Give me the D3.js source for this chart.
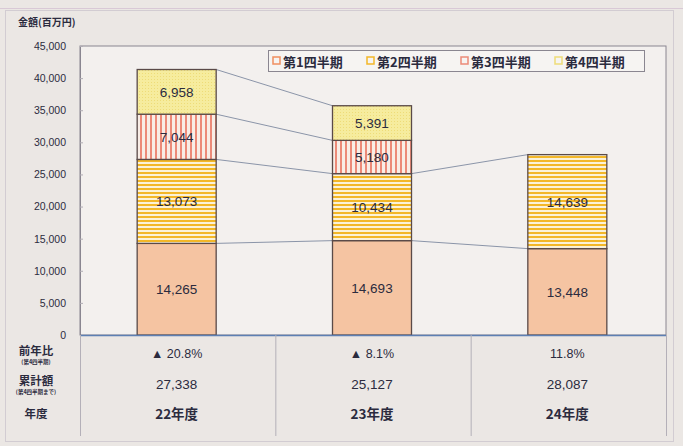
<!DOCTYPE html>
<html><head><meta charset="utf-8">
<script src="https://cdn.jsdelivr.net/npm/d3@7"></script>
<style>
html,body{margin:0;padding:0;background:#ebe7e4;}
svg{display:block;}
text{font-family:"Liberation Sans","Noto Sans CJK JP",sans-serif;fill:#2b2b3e;}
.jp{font-family:"Noto Sans CJK JP",sans-serif;font-weight:700;}
</style></head><body>
<script>
const categories = ["22年度", "23年度", "24年度"];
const seriesNames = ["第1四半期", "第2四半期", "第3四半期", "第4四半期"];
const q1 = [14265, 14693, 13448];
const q2 = [13073, 10434, 14639];
const q3 = [7044, 5180, null];
const q4 = [6958, 5391, null];
const yoy = ["▲ 20.8%", "▲ 8.1%", "11.8%"];
const cumulative = ["27,338", "25,127", "28,087"];
const yTicks = [0, 5000, 10000, 15000, 20000, 25000, 30000, 35000, 40000, 45000];

const W = 683, H = 446;
const svg = d3.select("body").append("svg").attr("width", W).attr("height", H);
const defs = svg.append("defs");

// patterns
const p2 = defs.append("pattern").attr("id","pq2").attr("patternUnits","userSpaceOnUse").attr("width",6).attr("height",4);
p2.append("rect").attr("width",6).attr("height",4).attr("fill","#fbf2d8");
p2.append("rect").attr("y",0).attr("width",6).attr("height",2).attr("fill","#f3b728");
const p3 = defs.append("pattern").attr("id","pq3").attr("patternUnits","userSpaceOnUse").attr("width",5).attr("height",6);
p3.append("rect").attr("width",5).attr("height",6).attr("fill","#f8ede6");
p3.append("rect").attr("x",0).attr("width",2).attr("height",6).attr("fill","#ec8a78");
const p4 = defs.append("pattern").attr("id","pq4").attr("patternUnits","userSpaceOnUse").attr("width",3).attr("height",3);
p4.append("rect").attr("width",3).attr("height",3).attr("fill","#f6ec9e");
p4.append("rect").attr("x",1).attr("y",1).attr("width",1).attr("height",1).attr("fill","#eedc78");

const fills = ["#f5c4a2", "url(#pq2)", "url(#pq3)", "url(#pq4)"];
const legendColors = ["#f08f60", "#f3b728", "#ec8a78", "#eedc78"];

const m = {left: 80, right: 666, top: 46, bottom: 335};

// outer frame
svg.append("line").attr("x1",0).attr("x2",W).attr("y1",8.5).attr("y2",8.5).attr("stroke","#d9c9d6").attr("stroke-width",1);
svg.append("rect").attr("x",5.5).attr("y",10.5).attr("width",668).attr("height",431)
  .attr("fill","none").attr("stroke","#d2ccd2").attr("stroke-width",1);

// plot area
svg.append("rect").attr("x",m.left).attr("y",m.top).attr("width",m.right-m.left).attr("height",m.bottom-m.top)
  .attr("fill","#f3f0ee").attr("stroke","#8a8690").attr("stroke-width",1);

const x = d3.scaleBand().domain(categories).range([m.left, m.right]).paddingInner(0).paddingOuter(0);
const y = d3.scaleLinear().domain([0, 45000]).range([m.bottom, m.top]);
const bw = 79;
const bx = c => x(c) + x.bandwidth()/2 - bw/2 - 1;

// y axis
const yAxis = d3.axisLeft(y).tickValues(yTicks).tickFormat(d3.format(",")).tickSize(-3).tickPadding(14);
const gy = svg.append("g").attr("transform",`translate(${m.left},0)`).call(yAxis);
gy.select(".domain").attr("stroke","#8a8690");
gy.selectAll(".tick line").attr("stroke","#b0acb4");
gy.selectAll(".tick text").attr("font-size",10.5).attr("fill","#3a3a4e").attr("font-weight",400);

svg.append("text").attr("class","jp").attr("x",18).attr("y",26).attr("font-size",10).text("金額(百万円)");

// stacks
const data = categories.map((c,i)=>({cat:c, vals:[q1[i],q2[i],q3[i],q4[i]]}));
data.forEach(d=>{
  let acc = 0;
  d.segs = d.vals.map((v,k)=>{
    if (v == null) return null;
    const s = {k, y0: acc, y1: acc+v, v};
    acc += v;
    return s;
  }).filter(s=>s);
});

// connector lines
for (let i=0;i<data.length-1;i++){
  const a = data[i], b = data[i+1];
  const n = Math.min(a.segs.length, b.segs.length);
  for (let k=0;k<n;k++){
    svg.append("line")
      .attr("x1", bx(a.cat)+bw).attr("y1", y(a.segs[k].y1))
      .attr("x2", bx(b.cat)).attr("y2", y(b.segs[k].y1))
      .attr("stroke","#7f8aa0").attr("stroke-width",0.9);
  }
}

data.forEach(d=>{
  const g = svg.append("g");
  d.segs.forEach(s=>{
    g.append("rect").attr("x",bx(d.cat)).attr("y",y(s.y1)).attr("width",bw).attr("height",y(s.y0)-y(s.y1))
      .attr("fill",fills[s.k]).attr("stroke","#5a4a48").attr("stroke-width",1.3);
  });
  d.segs.forEach(s=>{
    g.append("text").attr("x",bx(d.cat)+bw/2).attr("y",(y(s.y0)+y(s.y1))/2+5)
      .attr("text-anchor","middle").attr("font-size",13.5).attr("fill","#3a3434")
      .text(d3.format(",")(s.v));
  });
});

// bottom axis line
svg.append("line").attr("x1",m.left).attr("x2",m.right).attr("y1",m.bottom+0.5).attr("y2",m.bottom+0.5)
  .attr("stroke","#5d7fb3").attr("stroke-width",1.5);

// legend
const lg = svg.append("g");
lg.append("rect").attr("x",268.5).attr("y",50.5).attr("width",376).attr("height",21)
  .attr("fill","#f6f4f2").attr("stroke","#8a8690");
const lx = [273, 367, 461, 555];
seriesNames.forEach((n,i)=>{
  lg.append("rect").attr("x",lx[i]).attr("y",57).attr("width",7).attr("height",7)
    .attr("fill","#f6f4f2").attr("stroke",legendColors[i]).attr("stroke-width",1.5);
  lg.append("text").attr("class","jp").attr("x",lx[i]+10).attr("y",66.5).attr("font-size",13).text(n);
});

// table
const tableBottom = 436;
[m.left, x(categories[1]), x(categories[2]), m.right].forEach(v=>{
  svg.append("line").attr("x1",v+0.5).attr("x2",v+0.5).attr("y1",m.bottom).attr("y2",tableBottom)
    .attr("stroke","#b4b0b8").attr("stroke-width",1);
});
const rowY = [358, 389, 419];
// row headers
svg.append("text").attr("class","jp").attr("x",36).attr("y",355).attr("text-anchor","middle").attr("font-size",11.5).text("前年比");
svg.append("text").attr("class","jp").attr("x",36).attr("y",364).attr("text-anchor","middle").attr("font-size",5.5).text("(第4四半期)");
svg.append("text").attr("class","jp").attr("x",36).attr("y",385).attr("text-anchor","middle").attr("font-size",11.5).text("累計額");
svg.append("text").attr("class","jp").attr("x",36).attr("y",394).attr("text-anchor","middle").attr("font-size",5.5).text("(第4四半期まで)");
svg.append("text").attr("class","jp").attr("x",36).attr("y",418).attr("text-anchor","middle").attr("font-size",11.5).text("年度");

categories.forEach((c,i)=>{
  const cx = x(c) + x.bandwidth()/2 - 1;
  svg.append("text").attr("x",cx).attr("y",rowY[0]).attr("text-anchor","middle").attr("font-size",12.5).text(yoy[i]);
  svg.append("text").attr("x",cx).attr("y",rowY[1]).attr("text-anchor","middle").attr("font-size",13.5).text(cumulative[i]);
  svg.append("text").attr("class","jp").attr("x",cx).attr("y",rowY[2]).attr("text-anchor","middle").attr("font-size",13.5).attr("font-weight",500).text(c);
});
</script>
</body></html>
